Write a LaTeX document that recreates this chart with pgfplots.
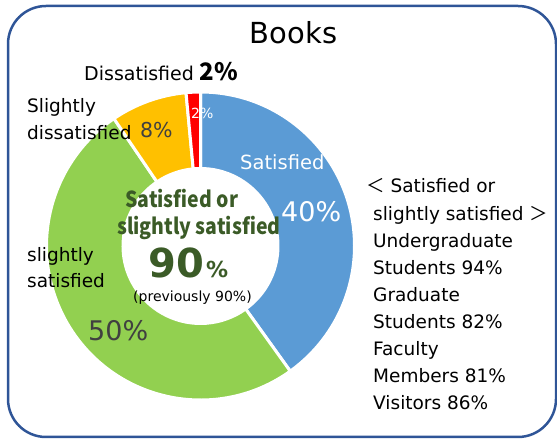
\documentclass[border=0pt]{standalone}
\usepackage{fontspec}
\setmainfont{DejaVu Sans}
\newfontfamily\cjk{Noto Sans CJK JP}
\newfontfamily\cjkc{Noto Sans CJK JP}[FakeStretch=0.885]
\usepackage{pgfplots}
\usepackage{pgfplotstable}
\pgfplotsset{compat=1.18}
\definecolor{cSat}{HTML}{5B9BD5}
\definecolor{cSlSat}{HTML}{92D050}
\definecolor{cSlDis}{HTML}{FFC000}
\definecolor{cDis}{HTML}{FF0000}
\definecolor{cBorder}{HTML}{2F5597}
\definecolor{cCenter}{HTML}{3B5B27}
\definecolor{cGray}{HTML}{404040}

\pgfplotstableread{
name   value
Satisfied 40.1
SlightlySatisfied 50.4
SlightlyDissatisfied 8.0
Dissatisfied 1.5
}\piedata

\newcommand\fs[1]{\fontsize{#1}{#1}\selectfont}
\def\cx{200.5}
\def\cy{193}
\def\Ro{154}
\def\Ri{77.5}
\newcommand\sector[3]{%
  \fill[#3, draw=white, line width=3pt]
    ([shift={(#1:\Ro pt)}]axis cs:\cx,\cy) arc[start angle=#1, end angle=#2, radius=\Ro pt]
    -- ([shift={(#2:\Ri pt)}]axis cs:\cx,\cy) arc[start angle=#2, end angle=#1, radius=\Ri pt] -- cycle;
}

\begin{document}%
\begin{tikzpicture}
\pgfplotstablegetelem{0}{value}\of\piedata \let\vA\pgfplotsretval
\pgfplotstablegetelem{1}{value}\of\piedata \let\vB\pgfplotsretval
\pgfplotstablegetelem{2}{value}\of\piedata \let\vC\pgfplotsretval
\pgfplotstablegetelem{3}{value}\of\piedata \let\vD\pgfplotsretval
\pgfmathsetmacro\aA{90}
\pgfmathsetmacro\aB{\aA-3.6*\vA}
\pgfmathsetmacro\aC{\aB-3.6*\vB}
\pgfmathsetmacro\aD{\aC-3.6*\vC}
\pgfmathsetmacro\aE{\aD-3.6*\vD}
\useasboundingbox (0,0) rectangle (557pt,439pt);
\clip (0,0) rectangle (557pt,439pt);
\begin{axis}[
  at={(0,0)}, anchor=origin,
  scale only axis, width=557pt, height=439pt,
  xmin=0, xmax=557, ymin=0, ymax=439,
  hide axis, clip=false,
]
% border
\draw[cBorder, line width=2.5pt, rounded corners=38pt]
  (axis cs:8,2) rectangle (axis cs:556,433);
% donut
\sector{\aA}{\aB}{cSat}
\sector{\aB}{\aC}{cSlSat}
\sector{\aC}{\aD}{cSlDis}
\sector{\aD}{\aE}{cDis}
% title
\node[anchor=base, inner sep=0] at (axis cs:293.5,395) {\fs{29}Books};
% outer labels
\node[anchor=base west, inner sep=0] at (axis cs:84,358.5) {\fs{19}Dissatisfied {\cjk\bfseries\fs{24}2\%}};
\node[anchor=base west, inner sep=0] at (axis cs:27,326) {\fs{18.5}Slightly};
\node[anchor=base west, inner sep=0] at (axis cs:27,299) {\fs{18.5}dissatisfied};
\node[anchor=base west, inner sep=0] at (axis cs:27,177) {\fs{18.5}slightly};
\node[anchor=base west, inner sep=0] at (axis cs:27,151) {\fs{18.5}satisfied};
% in-segment labels
\node[anchor=base west, inner sep=0, text=white] at (axis cs:240,269) {\fs{19.5}Satisfied};
\node[anchor=base west, inner sep=0, text=white] at (axis cs:281,217) {\fs{27}40\%};
\node[anchor=base west, inner sep=0, text=cGray] at (axis cs:88,98) {\fs{27}50\%};
\node[anchor=base west, inner sep=0, text=cGray] at (axis cs:140,301) {\fs{20.5}8\%};
\node[anchor=base west, inner sep=0, text=white] at (axis cs:191,320) {\fs{14}2\%};
% center
\node[anchor=base west, inner sep=0, text=cCenter] at (axis cs:125,231) {\cjkc\bfseries\fs{22}Satisfied or};
\node[anchor=base west, inner sep=0, text=cCenter] at (axis cs:117,204) {\cjkc\bfseries\fs{22}slightly satisfied};
\node[anchor=base west, inner sep=0, text=cCenter] at (axis cs:148,161) {\bfseries\fs{40}90};
\node[anchor=base west, inner sep=0, text=cCenter] at (axis cs:206,161) {\bfseries\fs{22}\%};
\node[anchor=base west, inner sep=0] at (axis cs:133,137) {\fs{14}(previously 90\%)};
% right block
\node[anchor=base west, inner sep=0] at (axis cs:366,246) {\fs{18.5}{\cjk ＜} Satisfied or};
\node[anchor=base west, inner sep=0] at (axis cs:373,218) {\fs{18.5}slightly satisfied {\cjk ＞}};
\node[anchor=base west, inner sep=0] at (axis cs:373,191) {\fs{18.5}Undergraduate};
\node[anchor=base west, inner sep=0] at (axis cs:373,164) {\fs{18.5}Students 94\%};
\node[anchor=base west, inner sep=0] at (axis cs:373,137) {\fs{18.5}Graduate};
\node[anchor=base west, inner sep=0] at (axis cs:373,110) {\fs{18.5}Students 82\%};
\node[anchor=base west, inner sep=0] at (axis cs:373,83) {\fs{18.5}Faculty};
\node[anchor=base west, inner sep=0] at (axis cs:373,56) {\fs{18.5}Members 81\%};
\node[anchor=base west, inner sep=0] at (axis cs:373,29) {\fs{18.5}Visitors 86\%};
\end{axis}
\end{tikzpicture}%
\end{document}
